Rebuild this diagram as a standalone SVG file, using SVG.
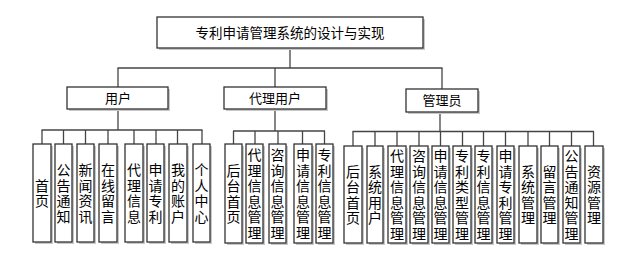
<svg xmlns="http://www.w3.org/2000/svg" width="631" height="262" viewBox="0 0 631 262">
<style>
.sh{fill:#c8c8c8;stroke:none}
.bx{fill:#fff;stroke:#333;stroke-width:1.3}
.t{font-family:"Noto Sans CJK SC","Noto Sans",sans-serif;fill:#000;text-anchor:middle}
.tt{font-size:13.5px}
.tm{font-size:13px}
.v{font-size:14px;writing-mode:vertical-rl;text-orientation:upright;letter-spacing:1.5px}
.cn line{stroke:#444;stroke-width:1.3}
</style>
<rect width="631" height="262" fill="#fff"/>
<g class="cn" id="connectors">
<line x1="290" y1="48" x2="290" y2="68"/>
<line x1="117.5" y1="68" x2="442.5" y2="68"/>
<line x1="118" y1="68" x2="118" y2="87"/>
<line x1="275" y1="68" x2="275" y2="87"/>
<line x1="442" y1="68" x2="442" y2="89"/>
<line x1="118" y1="109" x2="118" y2="130"/>
<line x1="41.5" y1="130" x2="202.5" y2="130"/>
<line x1="42" y1="130" x2="42" y2="144"/>
<line x1="63.5" y1="130" x2="63.5" y2="144"/>
<line x1="85.5" y1="130" x2="85.5" y2="144"/>
<line x1="108" y1="130" x2="108" y2="144"/>
<line x1="134" y1="130" x2="134" y2="144"/>
<line x1="156" y1="130" x2="156" y2="144"/>
<line x1="177.5" y1="130" x2="177.5" y2="144"/>
<line x1="202" y1="130" x2="202" y2="144"/>
<line x1="275" y1="109" x2="275" y2="131"/>
<line x1="233" y1="131" x2="325" y2="131"/>
<line x1="233.5" y1="131" x2="233.5" y2="144"/>
<line x1="255" y1="131" x2="255" y2="144"/>
<line x1="278" y1="131" x2="278" y2="144"/>
<line x1="302.5" y1="131" x2="302.5" y2="144"/>
<line x1="324.5" y1="131" x2="324.5" y2="144"/>
<line x1="440" y1="112" x2="440" y2="131.5"/>
<line x1="352.5" y1="131.5" x2="594" y2="131.5"/>
<line x1="353" y1="131.5" x2="353" y2="146"/>
<line x1="375" y1="131.5" x2="375" y2="146"/>
<line x1="397" y1="131.5" x2="397" y2="146"/>
<line x1="419" y1="131.5" x2="419" y2="146"/>
<line x1="440.5" y1="131.5" x2="440.5" y2="146"/>
<line x1="462.5" y1="131.5" x2="462.5" y2="146"/>
<line x1="483.5" y1="131.5" x2="483.5" y2="146"/>
<line x1="505.5" y1="131.5" x2="505.5" y2="146"/>
<line x1="528" y1="131.5" x2="528" y2="146"/>
<line x1="549.5" y1="131.5" x2="549.5" y2="146"/>
<line x1="571.5" y1="131.5" x2="571.5" y2="146"/>
<line x1="593.5" y1="131.5" x2="593.5" y2="146"/>
</g>
<g id="title">
<rect class="sh" x="159" y="19" width="266" height="31"/>
<rect class="bx" x="157" y="17" width="266" height="31"/>
<text class="t tt" x="290" y="37.5">专利申请管理系统的设计与实现</text>
</g>
<g id="user">
<rect class="sh" x="69" y="89" width="101" height="22"/>
<rect class="bx" x="67" y="87" width="101" height="22"/>
<text class="t tm" x="118" y="102.5">用户</text>
</g>
<g id="agent">
<rect class="sh" x="226" y="89" width="102" height="22"/>
<rect class="bx" x="224" y="87" width="102" height="22"/>
<text class="t tm" x="275" y="102.5">代理用户</text>
</g>
<g id="admin">
<rect class="sh" x="408" y="91" width="72" height="23"/>
<rect class="bx" x="406" y="89" width="72" height="23"/>
<text class="t tm" x="442" y="105">管理员</text>
</g>
<g id="u1"><rect class="sh" x="35" y="146" width="18" height="98"/><rect class="bx" x="33" y="144" width="18" height="98"/><text class="t v" x="42" y="193.7">首页</text></g>
<g id="u2"><rect class="sh" x="57" y="146" width="17" height="98"/><rect class="bx" x="55" y="144" width="17" height="98"/><text class="t v" x="63.5" y="193.7">公告通知</text></g>
<g id="u3"><rect class="sh" x="79" y="146" width="17" height="98"/><rect class="bx" x="77" y="144" width="17" height="98"/><text class="t v" x="85.5" y="193.7">新闻资讯</text></g>
<g id="u4"><rect class="sh" x="101" y="146" width="18" height="98"/><rect class="bx" x="99" y="144" width="18" height="98"/><text class="t v" x="108" y="193.7">在线留言</text></g>
<g id="u5"><rect class="sh" x="127" y="146" width="18" height="98"/><rect class="bx" x="125" y="144" width="18" height="98"/><text class="t v" x="134" y="193.7">代理信息</text></g>
<g id="u6"><rect class="sh" x="149" y="146" width="17" height="98"/><rect class="bx" x="147" y="144" width="17" height="98"/><text class="t v" x="155.5" y="193.7">申请专利</text></g>
<g id="u7"><rect class="sh" x="171" y="146" width="18" height="98"/><rect class="bx" x="169" y="144" width="18" height="98"/><text class="t v" x="178" y="193.7">我的账户</text></g>
<g id="u8"><rect class="sh" x="195" y="146" width="17" height="98"/><rect class="bx" x="193" y="144" width="17" height="98"/><text class="t v" x="201.5" y="193.7">个人中心</text></g>
<g id="a1"><rect class="sh" x="227" y="146" width="17" height="99"/><rect class="bx" x="225" y="144" width="17" height="99"/><text class="t v" x="233.5" y="194.2">后台首页</text></g>
<g id="a2"><rect class="sh" x="248" y="146" width="17" height="99"/><rect class="bx" x="246" y="144" width="17" height="99"/><text class="t v" x="254.5" y="194.2">代理信息管理</text></g>
<g id="a3"><rect class="sh" x="271" y="146" width="17" height="99"/><rect class="bx" x="269" y="144" width="17" height="99"/><text class="t v" x="277.5" y="194.2">咨询信息管理</text></g>
<g id="a4"><rect class="sh" x="296" y="146" width="18" height="99"/><rect class="bx" x="294" y="144" width="18" height="99"/><text class="t v" x="303" y="194.2">申请信息管理</text></g>
<g id="a5"><rect class="sh" x="318" y="146" width="17" height="99"/><rect class="bx" x="316" y="144" width="17" height="99"/><text class="t v" x="324.5" y="194.2">专利信息管理</text></g>
<g id="m1"><rect class="sh" x="346" y="148" width="18" height="97"/><rect class="bx" x="344" y="146" width="18" height="97"/><text class="t v" x="353" y="195.2">后台首页</text></g>
<g id="m2"><rect class="sh" x="369" y="148" width="16" height="97"/><rect class="bx" x="367" y="146" width="16" height="97"/><text class="t v" x="375" y="195.2">系统用户</text></g>
<g id="m3"><rect class="sh" x="390" y="148" width="18" height="97"/><rect class="bx" x="388" y="146" width="18" height="97"/><text class="t v" x="397" y="195.2">代理信息管理</text></g>
<g id="m4"><rect class="sh" x="412" y="148" width="18" height="97"/><rect class="bx" x="410" y="146" width="18" height="97"/><text class="t v" x="419" y="195.2">咨询信息管理</text></g>
<g id="m5"><rect class="sh" x="434" y="148" width="17" height="97"/><rect class="bx" x="432" y="146" width="17" height="97"/><text class="t v" x="440.5" y="195.2">申请信息管理</text></g>
<g id="m6"><rect class="sh" x="455" y="148" width="18" height="97"/><rect class="bx" x="453" y="146" width="18" height="97"/><text class="t v" x="462" y="195.2">专利类型管理</text></g>
<g id="m7"><rect class="sh" x="477" y="148" width="17" height="97"/><rect class="bx" x="475" y="146" width="17" height="97"/><text class="t v" x="483.5" y="195.2">专利信息管理</text></g>
<g id="m8"><rect class="sh" x="499" y="148" width="17" height="97"/><rect class="bx" x="497" y="146" width="17" height="97"/><text class="t v" x="505.5" y="195.2">申请专利管理</text></g>
<g id="m9"><rect class="sh" x="521" y="148" width="18" height="97"/><rect class="bx" x="519" y="146" width="18" height="97"/><text class="t v" x="528" y="195.2">系统管理</text></g>
<g id="m10"><rect class="sh" x="543" y="148" width="17" height="97"/><rect class="bx" x="541" y="146" width="17" height="97"/><text class="t v" x="549.5" y="195.2">留言管理</text></g>
<g id="m11"><rect class="sh" x="565" y="148" width="17" height="97"/><rect class="bx" x="563" y="146" width="17" height="97"/><text class="t v" x="571.5" y="195.2">公告通知管理</text></g>
<g id="m12"><rect class="sh" x="587" y="148" width="18" height="97"/><rect class="bx" x="585" y="146" width="18" height="97"/><text class="t v" x="594" y="195.2">资源管理</text></g>
</svg>
